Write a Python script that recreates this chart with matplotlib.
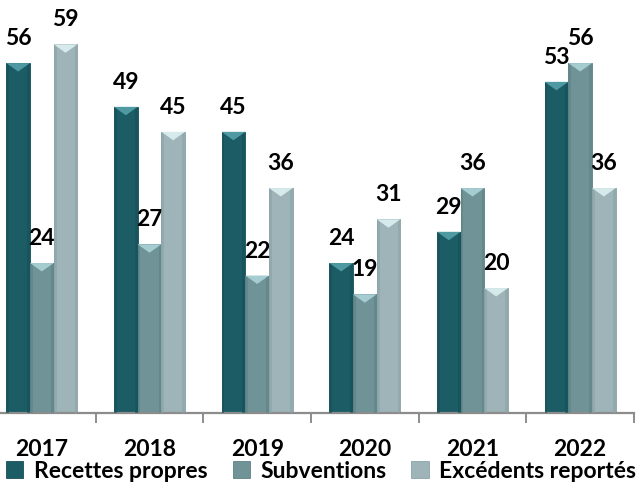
import matplotlib.pyplot as plt
from matplotlib.font_manager import FontProperties
from matplotlib.patches import Polygon, Rectangle
import numpy as np

years = ["2017", "2018", "2019", "2020", "2021", "2022"]
recettes = [56, 49, 45, 24, 29, 53]
subventions = [24, 27, 22, 19, 36, 56]
excedents = [59, 45, 36, 31, 20, 36]

series = [
    ("Recettes propres", recettes, "#1b5c65", "#155058", "#4f9aa2"),
    ("Subventions", subventions, "#6f9397", "#5d8286", "#a5cdd1"),
    ("Excédents reportés", excedents, "#9eb4b8", "#8aa3a7", "#d6eaec"),
]

FONT = "Lato"
plt.rcParams["font.family"] = FONT
label_font = FontProperties(family=FONT, weight="bold", size=16.5)
legend_font = FontProperties(family=FONT, weight="bold", size=16.5)

fig = plt.figure(figsize=(6.42, 4.94), dpi=100)
ax = fig.add_axes([-12 / 642, 81 / 494, 646 / 642, 413 / 494])

x = np.arange(len(years))
width = 0.22
ymax = 66.1
bevel = 1.35  # depth of the top bevel, in data units

handles = []
for i, (name, vals, color, edge, light) in enumerate(series):
    bars = ax.bar(x + (i - 1) * width, vals, width, color=color,
                  edgecolor=edge, linewidth=0.6, label=name, zorder=2)
    handles.append(bars)
    for bar, v in zip(bars, vals):
        x0, w, h = bar.get_x(), bar.get_width(), bar.get_height()
        # darker side strips for a bit of depth
        ax.add_patch(Rectangle((x0, 0), w * 0.12, h, color=edge, lw=0, zorder=3, alpha=0.6))
        ax.add_patch(Rectangle((x0 + w * 0.88, 0), w * 0.12, h, color=edge, lw=0, zorder=3, alpha=0.6))
        ax.add_patch(Polygon([(x0, h), (x0 + w, h), (x0 + w / 2, h - bevel)],
                             closed=True, color=light, lw=0, zorder=4))
        ax.annotate(f"{v}", xy=(x0 + w / 2, h), xytext=(0, 10),
                    textcoords="offset points", ha="center", va="bottom",
                    fontproperties=label_font, color="black")

ax.set_xlim(-0.5, len(years) - 0.5)
ax.set_ylim(0, ymax)

for s in ["top", "right", "left"]:
    ax.spines[s].set_visible(False)
ax.spines["bottom"].set_color("#8c8c8c")
ax.spines["bottom"].set_linewidth(1.6)
ax.set_yticks([])

ax.set_xticks(x)
ax.set_xticklabels(years, fontproperties=label_font)
ax.tick_params(axis="x", which="major", length=0, pad=19)
ax.set_xticks(np.arange(len(years) + 1) - 0.5, minor=True)
ax.tick_params(axis="x", which="minor", length=7, width=1.4, color="#8c8c8c")

fig.legend(handles=handles, labels=[s[0] for s in series], loc="center",
           bbox_to_anchor=(0.5, 1 - 471 / 494), ncol=3, frameon=False,
           handlelength=0.75, handleheight=0.75,
           handletextpad=0.45, columnspacing=1.1, borderpad=0,
           prop=legend_font)

fig.savefig("out.png", dpi=100)
